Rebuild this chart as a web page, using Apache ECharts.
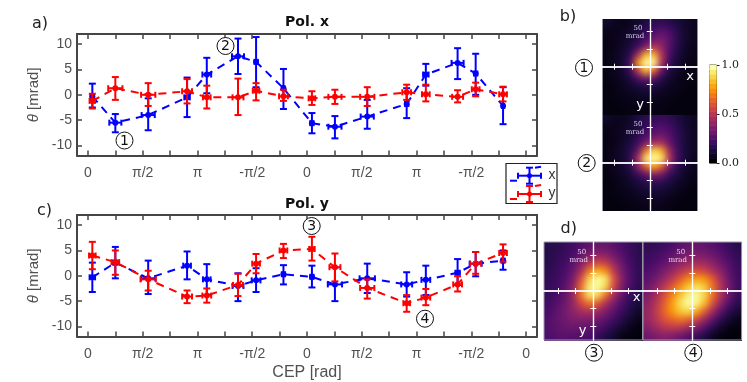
<!DOCTYPE html>
<html>
<head>
<meta charset="utf-8">
<style>
  html, body { margin: 0; padding: 0; background: #fff; }
  #page { position: relative; width: 747px; height: 382px; overflow: hidden; }
  #main { position: absolute; left: 0; top: 0; width: 747px; height: 382px; }
  .heat { position: absolute; overflow: hidden; background: #000; }
  .heat > div { position: absolute; left: -8px; top: -8px; right: -8px; bottom: -8px; filter: blur(3.2px); }
  .side { box-sizing: border-box; border-left: 1px solid #8f8f9c; border-right: 1px solid #8f8f9c; }
</style>
<script src="https://cdn.jsdelivr.net/npm/echarts@6/dist/echarts.min.js"></script>
</head>
<body>
<div id="page">
  <div class="heat side" style="left:602px;top:19px;width:96px;height:96px"><div id="heat1"></div></div>
  <div class="heat side" style="left:602px;top:115px;width:96px;height:96px"><div id="heat2"></div></div>
  <div class="heat" style="left:544px;top:242px;width:99px;height:99px"><div id="heat3"></div></div>
  <div class="heat" style="left:643px;top:242px;width:99px;height:99px"><div id="heat4"></div></div>
  <div id="main"></div>
</div>
<script>
// x positions in units of pi/2, same for both panels
const cep = [0.08, 0.5, 1.1, 1.81, 2.17, 2.74, 3.07, 3.57, 4.09, 4.51, 5.1, 5.82, 6.17, 6.75, 7.08, 7.58];
const xTickLabels = ["0", "π/2", "π", "-π/2", "0", "π/2", "π", "-π/2", "0"];

// a) Pol. x
const axBlue = [-0.3, -5.5, -4, -0.5, 4, 7.6, 6.5, 1.3, -5.6, -6.3, -4.3, -1.8, 4, 6.3, 4.2, -2.2];
const axBlueHi = [2.2, -3.8, -0.7, 3.4, 7.3, 11.1, 11.4, 5.1, -3.6, -4.2, -1, 1.3, 6.1, 9.2, 8.1, 1.5];
const axBlueLo = [-2.5, -7.4, -7, -4.4, 0.3, 4.1, 1.5, -2.8, -7.6, -8.6, -6.7, -4.6, 1.8, 3.1, 0, -5.8];
const axBlueErr = [0.03, 0.11, 0.12, 0.05, 0.08, 0.11, 0.03, 0.02, 0.03, 0.12, 0.12, 0.03, 0.05, 0.11, 0.03, 0.02];
const axRed = [-1.2, 1.3, 0, 0.7, -0.5, -0.5, 0.8, -0.3, -0.7, -0.4, -0.4, 0.5, 0.1, -0.4, 1.1, 0.1];
const axRedHi = [0.2, 3.5, 2.3, 3.1, 1.8, 3.2, 2.3, 1, 0.7, 1, 1.5, 2, 2, 0.9, 2.4, 1.6];
const axRedLo = [-2.7, -1, -2.2, -1.7, -2.7, -4, -1.1, -1.2, -2, -1.8, -2.2, -1, -1.3, -1.5, -0.3, -1.3];
const axRedErr = [0.05, 0.13, 0.13, 0.09, 0.07, 0.1, 0.06, 0.08, 0.06, 0.12, 0.13, 0.08, 0.07, 0.1, 0.07, 0.07];

// c) Pol. y
const cyBlue = [-0.3, 2.6, -0.5, 2, -0.7, -2, -0.9, 0.3, -0.2, -1.7, -0.5, -1.7, -0.8, 0.6, 2.4, 3];
const cyBlueHi = [2.6, 5.7, 3, 4.8, 2.3, 0.5, 1.5, 2.1, 2, 1.6, 2.4, 0.7, 2, 3.3, 4.7, 5];
const cyBlueLo = [-3.2, -0.5, -3.6, -0.7, -3.8, -5, -3.2, -1.7, -2.3, -5, -3.4, -4.1, -3.8, -1.8, -0.1, 1.2];
const cyBlueErr = [0.05, 0.04, 0.13, 0.07, 0.07, 0.1, 0.08, 0.03, 0.03, 0.13, 0.14, 0.1, 0.08, 0.04, 0.11, 0.03];
const cyRed = [4, 2.7, -0.7, -4.1, -3.9, -1.8, 2.4, 5, 5.3, 1.7, -2.4, -5.4, -4.3, -1.7, 2.4, 4.5];
const cyRedHi = [6.7, 5, 1, -2.9, -2.5, 0.4, 4.3, 6.3, 7.7, 4.4, -0.7, -3.8, -2.6, -0.1, 4.7, 6.2];
const cyRedLo = [1.3, 0.2, -2.9, -5.4, -5.3, -4, 0.5, 3.5, 3, -1.1, -4.5, -7.1, -5.8, -3.1, 0.4, 2.8];
const cyRedErr = [0.06, 0.07, 0.14, 0.09, 0.08, 0.09, 0.07, 0.07, 0.05, 0.1, 0.13, 0.06, 0.08, 0.08, 0.1, 0.07];

// detector images, percent of max, rows from the top
const heat1 = [
  [8, 5, 4, 5, 8, 12, 15, 16, 14, 10, 7, 5],
  [4, 4, 5, 7, 11, 16, 22, 26, 22, 14, 8, 5],
  [3, 4, 6, 9, 14, 22, 30, 33, 26, 15, 8, 5],
  [3, 4, 7, 11, 20, 36, 48, 40, 25, 14, 7, 4],
  [3, 5, 8, 16, 45, 85, 85, 48, 22, 11, 6, 4],
  [3, 5, 9, 22, 78, 100, 100, 48, 18, 9, 5, 3],
  [3, 5, 8, 18, 50, 85, 65, 28, 12, 7, 4, 3],
  [3, 4, 6, 11, 22, 30, 26, 14, 8, 5, 3, 3],
  [2, 3, 5, 7, 10, 12, 11, 8, 5, 4, 3, 2],
  [2, 3, 4, 5, 6, 7, 6, 5, 4, 3, 2, 2],
  [2, 2, 3, 3, 4, 4, 4, 3, 3, 2, 2, 2],
  [2, 2, 2, 3, 3, 3, 3, 3, 2, 2, 2, 2],
];
const heat2 = [
  [7, 5, 5, 7, 11, 15, 17, 18, 16, 12, 8, 6],
  [4, 4, 6, 8, 12, 18, 22, 24, 21, 15, 9, 6],
  [3, 4, 6, 9, 15, 22, 28, 30, 25, 17, 10, 6],
  [3, 4, 7, 11, 20, 33, 45, 45, 30, 18, 10, 6],
  [3, 5, 8, 14, 30, 70, 92, 82, 42, 20, 10, 6],
  [3, 5, 8, 16, 45, 95, 100, 95, 50, 20, 10, 5],
  [3, 5, 8, 14, 36, 62, 80, 62, 32, 16, 8, 5],
  [3, 4, 6, 10, 18, 28, 35, 30, 18, 11, 6, 4],
  [2, 3, 5, 7, 10, 14, 16, 15, 11, 7, 5, 3],
  [2, 3, 4, 5, 7, 9, 10, 9, 7, 5, 3, 2],
  [2, 2, 3, 4, 5, 6, 6, 6, 4, 3, 2, 2],
  [2, 2, 2, 3, 3, 4, 4, 4, 3, 2, 2, 2],
];
const heat3 = [
  [14, 15, 17, 20, 24, 27, 29, 29, 26, 22, 18, 15],
  [14, 16, 18, 22, 28, 34, 38, 37, 31, 25, 19, 15],
  [14, 17, 20, 26, 35, 48, 56, 52, 40, 29, 21, 16],
  [15, 18, 22, 29, 44, 70, 82, 74, 50, 33, 23, 16],
  [16, 19, 24, 33, 58, 90, 100, 94, 60, 36, 24, 16],
  [17, 20, 26, 37, 68, 96, 100, 90, 56, 34, 22, 15],
  [18, 22, 28, 40, 68, 94, 92, 68, 44, 28, 19, 13],
  [20, 25, 30, 40, 56, 68, 62, 46, 33, 23, 15, 10],
  [22, 27, 32, 38, 44, 46, 42, 34, 26, 18, 12, 7],
  [24, 28, 31, 34, 35, 34, 31, 26, 20, 13, 8, 4],
  [24, 27, 29, 30, 29, 27, 24, 19, 13, 8, 4, 2],
  [23, 25, 26, 25, 24, 22, 18, 12, 8, 3, 2, 1],
];
const heat4 = [
  [16, 17, 19, 22, 26, 28, 29, 28, 25, 22, 18, 14],
  [18, 20, 23, 27, 31, 34, 35, 33, 30, 26, 20, 16],
  [20, 23, 27, 32, 38, 42, 44, 42, 37, 30, 24, 18],
  [23, 27, 33, 40, 48, 55, 58, 55, 46, 37, 27, 19],
  [26, 32, 40, 50, 62, 74, 80, 76, 62, 44, 30, 20],
  [30, 38, 50, 62, 76, 88, 94, 88, 68, 48, 32, 20],
  [34, 44, 58, 72, 86, 97, 100, 90, 68, 46, 30, 18],
  [38, 48, 62, 78, 92, 100, 98, 84, 58, 38, 24, 14],
  [40, 50, 64, 76, 86, 90, 80, 62, 42, 26, 15, 9],
  [40, 48, 58, 64, 68, 64, 54, 40, 26, 15, 8, 4],
  [36, 42, 48, 50, 48, 42, 34, 24, 14, 7, 3, 2],
  [30, 34, 36, 34, 30, 25, 18, 11, 5, 2, 1, 1],
];
const colorbarLevels = [0, 5, 10, 15, 20, 25, 30, 35, 40, 45, 50, 55, 60, 65, 70, 75, 80, 85, 90, 95, 100];
const inferno = ["#000004", "#1b0c41", "#4a0c6b", "#781c6d", "#a52c60", "#cf4446", "#ed6925", "#fb9b06", "#f7d13d", "#fcffa4"];

const BLUE = "#0000ff";
const RED = "#ff0000";
const FRAME = "#454545";
const sans = '"Liberation Sans", sans-serif';
const deja = '"DejaVu Sans", sans-serif';
const serif = '"DejaVu Serif", serif';

function drawHeat(id, rows) {
  const chart = echarts.init(document.getElementById(id), null, { renderer: "canvas" });
  // one repeated row and column round the outside, so the css blur does not fade at the image edge
  const padRow = (row) => [row[0], ...row, row[row.length - 1]];
  const padded = [rows[0], ...rows, rows[rows.length - 1]].map(padRow);
  const cells = [];
  padded.forEach((row, r) => row.forEach((v, c) => cells.push([c, r, v])));
  chart.setOption({
    animation: false,
    grid: { left: 0, right: 0, top: 0, bottom: 0 },
    xAxis: { type: "category", data: padded[0].map((_, i) => i), show: false },
    yAxis: { type: "category", inverse: true, data: padded.map((_, i) => i), show: false },
    visualMap: { show: false, min: 0, max: 100, inRange: { color: inferno } },
    series: [{ type: "heatmap", data: cells, itemStyle: { borderWidth: 0 } }],
  });
}
drawHeat("heat1", heat1);
drawHeat("heat2", heat2);
drawHeat("heat3", heat3);
drawHeat("heat4", heat4);

// error bars with caps and a dot in the middle
function errorItem(color) {
  return (params, api) => {
    const x = api.value(0), y = api.value(1), lo = api.value(2), hi = api.value(3), dx = api.value(4);
    const c = api.coord([x, y]);
    const top = api.coord([x, hi]);
    const bot = api.coord([x, lo]);
    const lft = api.coord([x - dx, y]);
    const rgt = api.coord([x + dx, y]);
    const style = { stroke: color, lineWidth: 2, fill: null };
    const seg = (x1, y1, x2, y2) => ({ type: "line", shape: { x1, y1, x2, y2 }, style });
    return {
      type: "group",
      children: [
        seg(top[0], top[1], bot[0], bot[1]),
        seg(top[0] - 3.5, top[1], top[0] + 3.5, top[1]),
        seg(bot[0] - 3.5, bot[1], bot[0] + 3.5, bot[1]),
        seg(lft[0], lft[1], rgt[0], rgt[1]),
        seg(lft[0], lft[1] - 3, lft[0], lft[1] + 3),
        seg(rgt[0], rgt[1] - 3, rgt[0], rgt[1] + 3),
        { type: "circle", shape: { cx: c[0], cy: c[1], r: 3 }, style: { fill: color } },
      ],
    };
  };
}

const grids = [], xAxes = [], yAxes = [], series = [];

function plotPanel(top, groups) {
  const g = grids.length;
  grids.push({ left: 77, width: 460, top, height: 121.6 });
  const tickVals = [];
  for (let i = 0; i <= 16; i++) tickVals.push(i / 2);
  const line = { show: true, onZero: false, lineStyle: { color: FRAME, width: 2 } };
  const tick = { show: true, inside: true, length: 5, lineStyle: { color: FRAME, width: 1.5 } };
  const xBase = { type: "value", gridIndex: g, min: -0.2, max: 8.2, splitLine: { show: false }, axisLine: line };
  xAxes.push({
    ...xBase, position: "bottom",
    axisTick: { ...tick, customValues: tickVals },
    axisLabel: {
      show: true, customValues: xTickLabels.map((_, i) => i), margin: 11, fontSize: 14,
      fontFamily: sans, color: "#505050", formatter: (v) => xTickLabels[v],
    },
  });
  xAxes.push({ ...xBase, position: "top", axisTick: { ...tick, customValues: tickVals }, axisLabel: { show: false } });
  const yBase = { type: "value", gridIndex: g, min: -12, max: 12, splitLine: { show: false }, axisLine: line };
  const yVals = [-10, -5, 0, 5, 10];
  yAxes.push({
    ...yBase, position: "left",
    axisTick: { ...tick, customValues: yVals },
    axisLabel: { show: true, customValues: yVals, margin: 5, fontSize: 14, fontFamily: sans, color: "#505050" },
    name: "{t|θ} [mrad]", nameLocation: "middle", nameGap: 26, nameRotate: 90,
    nameTextStyle: {
      fontSize: 15, fontFamily: sans, color: "#505050",
      rich: { t: { fontStyle: "italic", fontSize: 15, fontFamily: sans, color: "#505050" } },
    },
  });
  yAxes.push({ ...yBase, position: "right", axisTick: { ...tick, customValues: yVals }, axisLabel: { show: false } });
  const xIdx = xAxes.length - 2, yIdx = yAxes.length - 2;
  groups.forEach(([color, vals, hi, lo, err]) => {
    const rows = cep.map((x, i) => [x, vals[i], lo[i], hi[i], err[i]]);
    series.push({
      type: "line", xAxisIndex: xIdx, yAxisIndex: yIdx, data: rows.map((r) => [r[0], r[1]]),
      showSymbol: false, lineStyle: { color, width: 2, type: [8, 6] }, z: 3,
    });
    series.push({
      type: "custom", xAxisIndex: xIdx, yAxisIndex: yIdx, data: rows,
      encode: { x: 0, y: 1 }, renderItem: errorItem(color), z: 4, clip: false,
    });
  });
}

plotPanel(34, [
  [BLUE, axBlue, axBlueHi, axBlueLo, axBlueErr],
  [RED, axRed, axRedHi, axRedLo, axRedErr],
]);
plotPanel(215, [
  [BLUE, cyBlue, cyBlueHi, cyBlueLo, cyBlueErr],
  [RED, cyRed, cyRedHi, cyRedLo, cyRedErr],
]);

// white crosshair over an image, ticks every 25 mrad
function crosshair(left, top, w, h, framed) {
  const g = grids.length;
  grids.push({ left, top, width: w, height: h, show: framed, borderColor: "#9a9aa6", borderWidth: 1, backgroundColor: "transparent" });
  const tickVals = [-50, -25, 25, 50];
  const xExt = w / 2 / 0.708, yExt = h / 2 / 0.708;
  const base = { type: "value", gridIndex: g, splitLine: { show: false }, axisLabel: { show: false } };
  [true, false].forEach((inside) => {
    xAxes.push({
      ...base, min: -xExt, max: xExt, position: "bottom",
      axisLine: { show: true, onZero: true, lineStyle: { color: "rgba(255,255,255,0.7)", width: 2 } },
      axisTick: { show: true, inside, customValues: tickVals, length: 3, lineStyle: { color: "#fff", width: 1 } },
    });
    yAxes.push({
      ...base, min: -yExt, max: yExt, position: "left",
      axisLine: { show: true, onZero: true, lineStyle: { color: "#fff", width: 1.2 } },
      axisTick: { show: true, inside, customValues: tickVals, length: 3, lineStyle: { color: "#fff", width: 1 } },
    });
  });
  series.push({
    type: "line", data: [], xAxisIndex: xAxes.length - 1, yAxisIndex: yAxes.length - 1,
  });
}
crosshair(602, 19, 95.6, 95.4, false);
crosshair(602, 115, 95.6, 95.4, false);
crosshair(544, 242, 98.6, 98, true);
crosshair(643, 242, 98.6, 98, true);

// colorbar: cells on a hidden category axis, ticks and labels from a 0-1 value axis
const cbGrid = grids.length;
grids.push({ left: 709.5, top: 65, width: 7, height: 98, show: true, borderColor: "#222", borderWidth: 1 });
xAxes.push({ type: "category", gridIndex: cbGrid, data: ["c"], axisLine: { show: false }, axisTick: { show: false }, axisLabel: { show: false } });
yAxes.push({ type: "category", gridIndex: cbGrid, position: "left", data: colorbarLevels, show: false });
const cbCellAxis = yAxes.length - 1;
yAxes.push({
  type: "value", gridIndex: cbGrid, position: "right", min: 0, max: 1, interval: 0.5, splitLine: { show: false },
  axisLine: { show: false },
  axisTick: { show: true, length: 3, lineStyle: { color: "#222" } },
  axisLabel: { show: true, margin: 5, fontSize: 11, fontFamily: serif, color: "#222", formatter: (v) => v.toFixed(1) },
});
series.push({
  type: "heatmap", xAxisIndex: xAxes.length - 1, yAxisIndex: cbCellAxis,
  data: colorbarLevels.map((v, i) => [0, i, v]),
});
const cbSeries = series.length - 1;

function label(text, x, y, font, opts) {
  return { type: "text", x, y, z: 20, style: { text, font, fill: "#222", align: "center", verticalAlign: "middle", ...opts } };
}
function circled(n, x, y) {
  return {
    type: "group", z: 20,
    children: [
      { type: "circle", z: 20, shape: { cx: x, cy: y, r: 8.5 }, style: { fill: "#fff", stroke: "#111", lineWidth: 1 } },
      label(n, x, y + 0.5, `14px ${deja}`, { fill: "#111" }),
    ],
  };
}
function legendRow(color, name, y) {
  const st = { stroke: color, lineWidth: 2, fill: null };
  const seg = (x1, y1, x2, y2) => ({ type: "line", z: 21, shape: { x1, y1, x2, y2 }, style: st });
  return {
    type: "group", z: 21,
    children: [
      seg(510, y + 5, 517, y + 5), seg(518, y, 541, y), seg(535, y - 8, 541, y - 9),
      seg(529.5, y - 8, 529.5, y + 8), seg(526, y - 8, 533, y - 8), seg(526, y + 8, 533, y + 8),
      seg(518, y - 3, 518, y + 3), seg(541, y - 3, 541, y + 3),
      { type: "circle", z: 21, shape: { cx: 529.5, cy: y, r: 2.5 }, style: { fill: color } },
      label(name, 552, y - 1, `14px ${sans}`, { fill: "#333", z: 21 }),
    ],
  };
}
const graphics = [
  label("a)", 40, 24, `16px ${deja}`),
  label("b)", 568, 17, `16px ${deja}`),
  label("c)", 44.5, 211, `16px ${deja}`),
  label("d)", 568.7, 229, `16px ${deja}`),
  label("Pol. x", 307, 22.5, `bold 14px ${deja}`, { fill: "#111" }),
  label("Pol. y", 307, 204, `bold 14px ${deja}`, { fill: "#111" }),
  label("CEP [rad]", 307, 372.5, `16px ${sans}`, { fill: "#505050" }),
  circled("1", 124.5, 140.5), circled("2", 225.5, 46), circled("3", 311.7, 226), circled("4", 425, 318.7),
  circled("1", 584, 67.7), circled("2", 586.7, 163), circled("3", 594, 352.7), circled("4", 693.3, 352.7),
  label("x", 690, 77, `13px ${deja}`, { fill: "#fff" }),
  label("y", 640, 105, `13px ${deja}`, { fill: "#fff" }),
  label("x", 636.7, 298, `13px ${deja}`, { fill: "#fff" }),
  label("y", 582.7, 331, `13px ${deja}`, { fill: "#fff" }),
  label("50", 638, 28, `7px ${serif}`, { fill: "#d8cfe0" }), label("mrad", 635, 36, `7px ${serif}`, { fill: "#d8cfe0" }),
  label("50", 638, 124, `7px ${serif}`, { fill: "#d8cfe0" }), label("mrad", 635, 132, `7px ${serif}`, { fill: "#d8cfe0" }),
  label("50", 581.7, 252, `7px ${serif}`, { fill: "#e8d8ea" }), label("mrad", 578.7, 260, `7px ${serif}`, { fill: "#e8d8ea" }),
  label("50", 680.7, 252, `7px ${serif}`, { fill: "#e8d8ea" }), label("mrad", 677.7, 260, `7px ${serif}`, { fill: "#e8d8ea" }),
  { type: "rect", z: 20, shape: { x: 506, y: 163.5, width: 51, height: 40 }, style: { fill: "#fff", stroke: "#222", lineWidth: 1.2 } },
  legendRow(BLUE, "x", 175.7),
  legendRow(RED, "y", 194),
];

const chart = echarts.init(document.getElementById("main"), null, { renderer: "canvas" });
chart.setOption({
  backgroundColor: "transparent",
  animation: false,
  grid: grids,
  xAxis: xAxes,
  yAxis: yAxes,
  visualMap: [{ show: false, seriesIndex: cbSeries, min: 0, max: 100, inRange: { color: inferno } }],
  series,
  graphic: graphics,
});
</script>
</body>
</html>
